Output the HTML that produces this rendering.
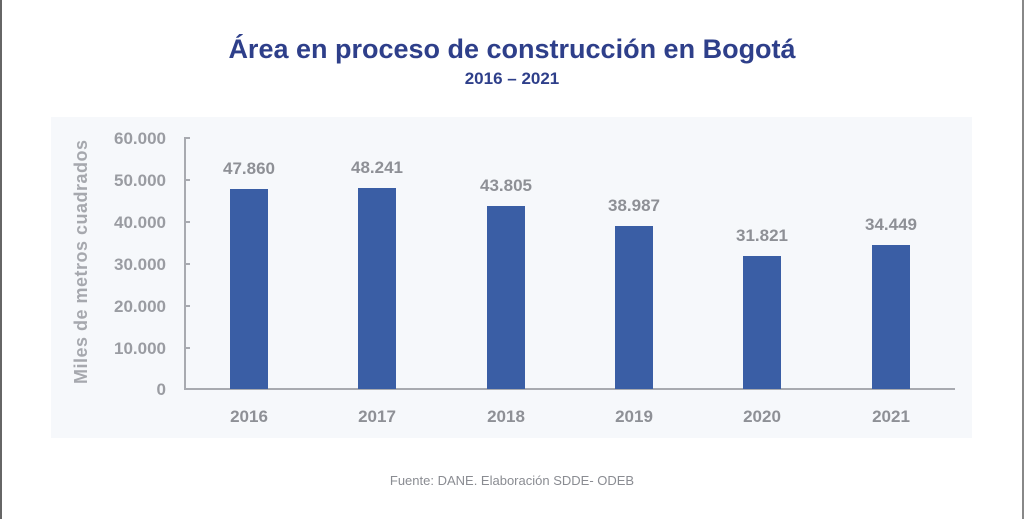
<!DOCTYPE html>
<html><head><meta charset="utf-8"><style>
html,body{margin:0;padding:0;background:#fff;}
body{width:1024px;height:519px;position:relative;overflow:hidden;font-family:"Liberation Sans",sans-serif;}
</style></head><body>
<div style="position:absolute;left:0;top:0;width:2px;height:519px;background:#666"></div>
<div style="position:absolute;left:1022px;top:0;width:2px;height:519px;background:#888"></div>
<svg width="1024" height="519" style="position:absolute;left:0;top:0">
<rect x="51" y="117" width="921" height="321" fill="#f6f8fb"/>
<text x="512" y="58" text-anchor="middle" font-size="27" font-weight="bold" fill="#2e3f8a">Área en proceso de construcción en Bogotá</text>
<text x="512" y="84" text-anchor="middle" font-size="17" font-weight="bold" fill="#2e3f8a">2016 – 2021</text>
<g fill="#9a9ca2" font-size="17" font-weight="bold" text-anchor="end">
<text x="166" y="144">60.000</text><text x="166" y="186">50.000</text><text x="166" y="228">40.000</text>
<text x="166" y="270">30.000</text><text x="166" y="312">20.000</text><text x="166" y="354">10.000</text>
<text x="166" y="395">0</text>
</g>
<text transform="translate(87,262) rotate(-90)" text-anchor="middle" font-size="18" font-weight="bold" fill="#a6a8ae" textLength="244">Miles de metros cuadrados</text>
<g stroke="#a8aab0" stroke-width="2" fill="none">
<path d="M190 138H185V389H955"/>
<path d="M185 180h5M185 222h5M185 264h5M185 306h5M185 348h5"/>
</g>
<g fill="#3a5ea5">
<rect x="230" y="189" width="38" height="200"/>
<rect x="358" y="188" width="38" height="201"/>
<rect x="487" y="206" width="38" height="183"/>
<rect x="615" y="226" width="38" height="163"/>
<rect x="743" y="256" width="38" height="133"/>
<rect x="872" y="245" width="38" height="144"/>
</g>
<g fill="#8e9096" font-size="17" font-weight="bold" text-anchor="middle">
<text x="249" y="174">47.860</text><text x="377" y="173">48.241</text><text x="506" y="191">43.805</text>
<text x="634" y="211">38.987</text><text x="762" y="241">31.821</text><text x="891" y="230">34.449</text>
</g>
<g fill="#8e9096" font-size="17" font-weight="bold" text-anchor="middle">
<text x="249" y="422">2016</text><text x="377" y="422">2017</text><text x="506" y="422">2018</text>
<text x="634" y="422">2019</text><text x="762" y="422">2020</text><text x="891" y="422">2021</text>
</g>
<text x="512" y="485" text-anchor="middle" font-size="13" fill="#8a8c92">Fuente: DANE. Elaboración SDDE- ODEB</text>
</svg>
</body></html>
